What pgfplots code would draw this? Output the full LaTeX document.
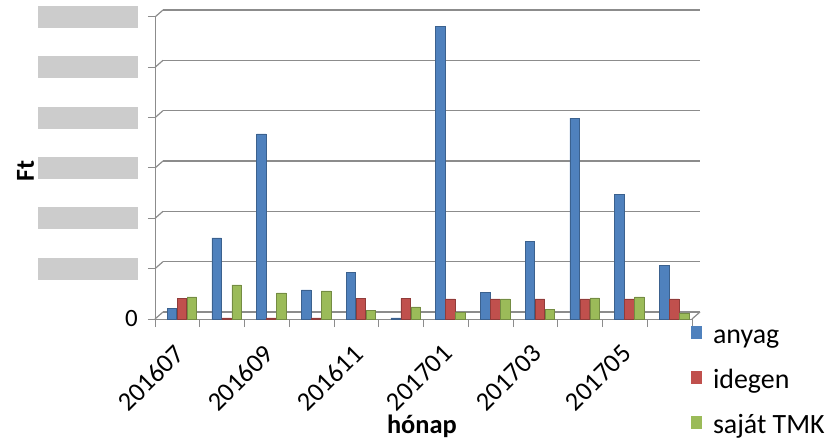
\documentclass[border=0pt]{standalone}
\usepackage{fontspec}
\setmainfont{Carlito}
\usepackage{pgfplots}
\pgfplotsset{compat=1.18}
\definecolor{cA}{HTML}{4F81BD}
\definecolor{cB}{HTML}{C0504D}
\definecolor{cC}{HTML}{9BBB59}
\definecolor{gridc}{HTML}{8C8C8C}
\newcommand\blob{\textcolor{gray!40}{\rule[-11bp]{100bp}{22bp}}}
\begin{document}
\begin{tikzpicture}
\path[use as bounding box] (0,0) rectangle (826bp,439bp);
\begin{axis}[
  at={(155bp,120bp)}, anchor=south west,
  scale only axis, width=537bp, height=302bp,
  xmin=-0.5, xmax=11.5, ymin=0, ymax=6,
  axis x line*=bottom, axis y line*=left,
  axis line style={gridc, line width=1bp},
  every tick/.style={gridc, line width=1bp},
  tick align=outside,
  major tick length=7bp, minor tick length=8bp,
  ytick={0,1,2,3,4,5,6},
  yticklabels={0,\blob,\blob,\blob,\blob,\blob,\blob},
  yticklabel style={font=\fontsize{25}{25}\selectfont, inner sep=0pt, anchor=east, xshift=-10bp},
  xtick={0,2,4,6,8,10},
  xticklabels={201607,201609,201611,201701,201703,201705},
  major x tick style={draw=none},
  minor xtick={-0.5,0.5,...,11.5},
  xticklabel style={font=\fontsize{26.5}{26.5}\selectfont, anchor=north east, inner sep=0pt, xshift=-4.5bp, yshift=-17bp, rotate=45},
  ymajorgrids,
  major grid style={gridc, line width=1.2bp, xshift=8bp, yshift=7bp},
  xlabel={hónap}, ylabel={Ft},
  every axis x label/.style={at={(axis description cs:0.497,-0.354)}, anchor=center, font=\bfseries\fontsize{26.5}{26.5}\selectfont},
  every axis y label/.style={at={(axis description cs:-0.241,0.49)}, anchor=center, rotate=90, font=\bfseries\fontsize{26}{26}\selectfont},
  legend style={at={(axis description cs:0.998,-0.013)}, anchor=north west, draw=none, fill=none,
    font=\fontsize{28}{28}\selectfont, row sep=19bp, column sep=12bp, inner sep=0pt,
    nodes={inner sep=0pt, text height=20bp, text depth=6bp}},
  legend cell align=left,
  clip=false,
]
\addplot[ybar, bar width=9.5bp, bar shift=-5.5bp, draw=cA!75!black, line width=0.5bp, fill=cA, forget plot]
  coordinates {(0,0.21) (1,1.61) (2,3.68) (3,0.58) (4,0.93) (5,0.02) (6,5.81) (7,0.53) (8,1.54) (9,3.99) (10,2.48) (11,1.07)};
\addplot[ybar, bar width=9.5bp, bar shift=4.5bp, draw=cB!75!black, line width=0.5bp, fill=cB, forget plot]
  coordinates {(0,0.41) (1,0.02) (2,0.02) (3,0.02) (4,0.41) (5,0.41) (6,0.40) (7,0.40) (8,0.40) (9,0.40) (10,0.40) (11,0.40)};
\addplot[ybar, bar width=9.5bp, bar shift=14.5bp, draw=cC!75!black, line width=0.5bp, fill=cC, forget plot]
  coordinates {(0,0.44) (1,0.68) (2,0.52) (3,0.56) (4,0.17) (5,0.24) (6,0.13) (7,0.40) (8,0.19) (9,0.42) (10,0.44) (11,0.12)};
\addlegendimage{legend image code/.code={\fill[cA] (0bp,-2bp) rectangle (9.5bp,10bp);}}
\addlegendentry{anyag}
\addlegendimage{legend image code/.code={\fill[cB] (0bp,-2bp) rectangle (9.5bp,10bp);}}
\addlegendentry{idegen}
\addlegendimage{legend image code/.code={\fill[cC] (0bp,-2bp) rectangle (9.5bp,10bp);}}
\addlegendentry{saját TMK}
\pgfplotsinvokeforeach{0,1,2,3,4,5,6}{
  \draw[gridc, line width=1.2bp] (axis cs:-0.5,#1) -- ++(8bp,7bp);
}
\draw[gridc, line width=1.2bp] (axis cs:11.5,0) -- ++(8bp,7bp);
\end{axis}
\end{tikzpicture}
\end{document}
